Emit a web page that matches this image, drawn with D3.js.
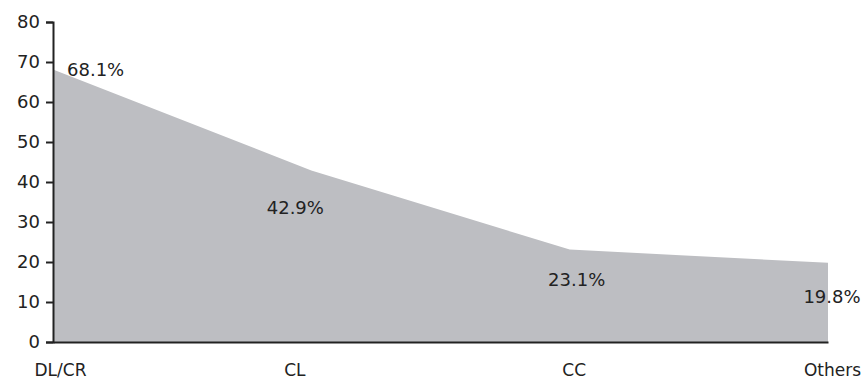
<!DOCTYPE html>
<html>
<head>
<meta charset="utf-8">
<script src="https://cdn.jsdelivr.net/npm/d3@7"></script>
<style>
	body { margin: 0; background: #fff; }
	text { font-family: "DejaVu Sans", sans-serif; fill: #222; }
</style>
</head>
<body>
<script>
//data
const categories = ['DL/CR', 'CL', 'CC', 'Others'];
const shares     = [68.1, 42.9, 23.1, 19.8];
const yTicks     = [0, 10, 20, 30, 40, 50, 60, 70, 80];

//dims
const width = 864, height = 380;
const margin = {top: 22, right: 36, bottom: 38, left: 53};

const svg = d3.select('body').append('svg')
	.attr('width', width)
	.attr('height', height);

const x = d3.scalePoint()
	.domain(categories)
	.range([margin.left, width - margin.right]);

const y = d3.scaleLinear()
	.domain([0, 80])
	.range([height - margin.bottom, margin.top]);

const rows = categories.map((c, i) => ({cat: c, v: shares[i]}));

//area
const area = d3.area()
	.x(d => x(d.cat))
	.y0(y(0))
	.y1(d => y(d.v));

svg.append('path')
	.datum(rows)
	.attr('fill', '#bdbec2')
	.attr('d', area);

//y axis
const yAxis = svg.append('g')
	.attr('transform', `translate(${margin.left},0)`)
	.call(d3.axisLeft(y).tickValues(yTicks).tickSize(7).tickSizeOuter(7).tickPadding(6));
yAxis.selectAll('text').style('font-size', '18px');
yAxis.selectAll('line, path').attr('stroke', '#222').attr('stroke-width', 2);

//x axis - labels sit a bit off the points in the original
const labelShift = [7, -17, 4, 4];
const xAxis = svg.append('g')
	.attr('transform', `translate(0,${y(0)})`)
	.call(d3.axisBottom(x).tickSize(0).tickSizeOuter(0).tickPadding(22));
xAxis.select('.domain').attr('stroke', '#222').attr('stroke-width', 2);
xAxis.selectAll('text')
	.style('font-size', '17px')
	.attr('dx', (d, i) => labelShift[i]);

//value labels
const valueDx = [14, -16, 7, 4];
const valueDy = [6, 44, 36, 40];
svg.append('g').selectAll('text')
	.data(rows)
	.enter().append('text')
		.attr('x', (d, i) => x(d.cat) + valueDx[i])
		.attr('y', (d, i) => y(d.v) + valueDy[i])
		.attr('text-anchor', (d, i) => i === 0 ? 'start' : 'middle')
		.style('font-size', '18px')
		.text(d => d.v.toFixed(1) + '%');
</script>
</body>
</html>
